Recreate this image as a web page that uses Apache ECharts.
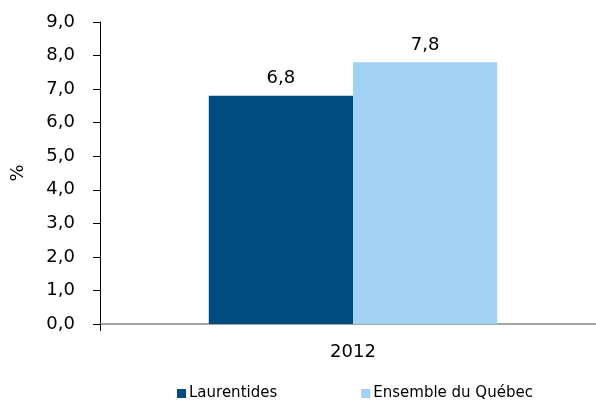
<!DOCTYPE html>
<html>
<head>
<meta charset="utf-8">
<script src="https://cdn.jsdelivr.net/npm/echarts@6/dist/echarts.min.js"></script>
<style>
  html, body { margin: 0; padding: 0; background: #fff; }
  #chart { width: 596px; height: 400px; }
</style>
</head>
<body>
<div id="chart"></div>
<script>
const categories = ['2012'];
const laurentides = [6.8];
const quebec = [7.8];
const seriesNames = ['Laurentides', 'Ensemble du Québec'];

const font = 'DejaVu Sans';
const fmt = v => v.toFixed(1).replace('.', ',');

const chart = echarts.init(document.getElementById('chart'));
chart.setOption({
  animation: false,
  textStyle: { fontFamily: font },
  grid: { left: 100, top: 22, bottom: 76, width: 506, outerBoundsMode: 'none', containLabel: false },
  legend: {
    bottom: -6,
    left: 172,
    itemWidth: 9,
    itemHeight: 9,
    itemGap: 84,
    icon: 'rect',
    textStyle: { fontFamily: font, fontSize: 15, color: '#000', padding: [0, 0, 0, -2] },
    data: seriesNames
  },
  xAxis: {
    type: 'category',
    data: categories,
    axisLine: { lineStyle: { color: '#868686', width: 1.5 } },
    axisTick: { show: true, length: 7, lineStyle: { color: '#000' } },
    axisLabel: { fontFamily: font, fontSize: 18, color: '#000', margin: 19 }
  },
  yAxis: {
    type: 'value',
    min: 0,
    max: 9,
    interval: 1,
    name: '%',
    nameLocation: 'middle',
    nameGap: 73,
    nameTextStyle: { fontFamily: font, fontSize: 18, color: '#000' },
    splitLine: { show: false },
    axisLine: { show: true, lineStyle: { color: '#000' } },
    axisTick: { show: true, length: 7, lineStyle: { color: '#000' } },
    axisLabel: { fontFamily: font, fontSize: 18, color: '#000', margin: 25, formatter: fmt }
  },
  series: [
    {
      name: seriesNames[0],
      type: 'bar',
      data: laurentides,
      barGap: '0%',
      barCategoryGap: '43%',
      itemStyle: { color: '#004C7F' },
      label: { show: true, position: 'top', distance: 8, fontFamily: font, fontSize: 18, color: '#000', formatter: p => fmt(p.value) }
    },
    {
      name: seriesNames[1],
      type: 'bar',
      data: quebec,
      itemStyle: { color: '#A1D1F3' },
      label: { show: true, position: 'top', distance: 8, fontFamily: font, fontSize: 18, color: '#000', formatter: p => fmt(p.value) }
    }
  ]
});
</script>
</body>
</html>
